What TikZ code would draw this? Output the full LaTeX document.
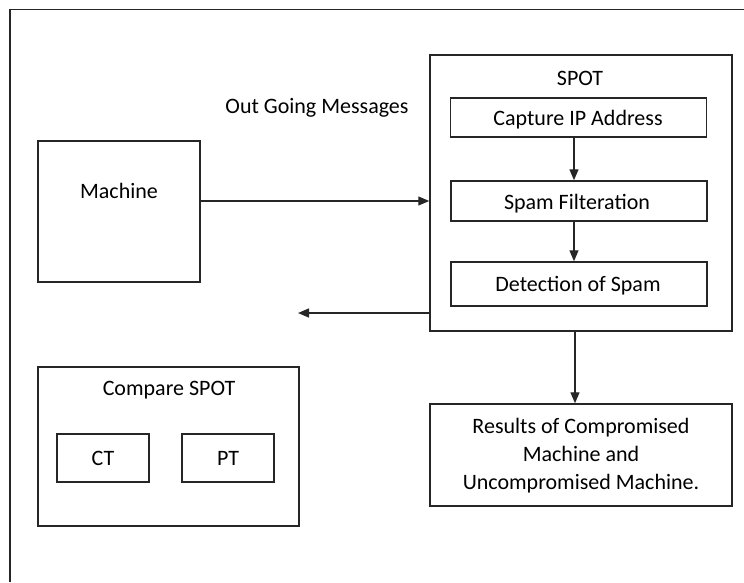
\documentclass[tikz,border=0pt]{standalone}
\usepackage{fontspec}
\setmainfont{Carlito}
\usetikzlibrary{arrows.meta}
\begin{document}
\begin{tikzpicture}[x=1pt,y=-1pt,
  box/.style={draw=black!85, line width=1.5pt, rectangle, inner sep=0pt, fill=white},
  lbl/.style={inner sep=0pt, font=\fontsize{22}{28}\selectfont, text=black},
  arr/.style={draw=black!85, line width=1.4pt, -{Triangle[length=11pt,width=9pt]}}]
  \useasboundingbox (0,0) rectangle (744,582);
  % partial outer frame
  \coordinate (frameBL) at (10,582);
  \coordinate (frameTL) at (10,9.5);
  \coordinate (frameTR) at (744,9.5);
  \draw[black!85, line width=1.5pt] (frameBL) -- (frameTL) -- (frameTR);

  % source machine
  \node[box, minimum width=162pt, minimum height=141pt] (machine) at (119,211.5) {};
  \node[lbl] (machinetxt) at (119,191) {Machine};

  % SPOT block and its stages
  \node[box, minimum width=302pt, minimum height=276pt] (spot) at (581,193) {};
  \node[lbl] (spottxt) at (580,78) {SPOT};
  \node[box, minimum width=256pt, minimum height=39pt] (capture) at (578.5,117.5) {};
  \node[lbl] (capturetxt) at (578,120) {Capture IP Address};
  \node[box, minimum width=256pt, minimum height=40pt] (spam) at (579,201) {};
  \node[lbl] (spamtxt) at (577,204) {Spam Filteration};
  \node[box, minimum width=256pt, minimum height=44pt] (detect) at (579,284) {};
  \node[lbl] (detecttxt) at (578,286) {Detection of Spam};

  % results
  \node[box, minimum width=302pt, minimum height=102pt] (results) at (581,455) {};
  \node[lbl, align=center] (resultstxt) at (581,456) {Results of Compromised\\Machine and\\Uncompromised Machine.};

  % comparison block
  \node[box, minimum width=261pt, minimum height=159pt] (compare) at (168.5,446.5) {};
  \node[lbl] (comparetxt) at (169,390) {Compare SPOT};
  \node[box, minimum width=92pt, minimum height=48pt] (ct) at (103,458) {};
  \node[lbl] (cttxt) at (103,458) {CT};
  \node[box, minimum width=92pt, minimum height=48pt] (pt) at (228,458) {};
  \node[lbl] (pttxt) at (228,458) {PT};

  % message label
  \node[lbl] (outmsg) at (317,108) {Out Going Messages};

  % connectors
  \coordinate (msgy) at (0,201);
  \coordinate (stagex) at (574,0);
  \coordinate (resx) at (575,0);
  \coordinate (backend) at (298,313);
  \draw[arr] (machine.east |- msgy) -- (spot.west |- msgy);
  \draw[arr] (capture.south -| stagex) -- (spam.north -| stagex);
  \draw[arr] (spam.south -| stagex) -- (detect.north -| stagex);
  \draw[arr] (spot.west |- backend) -- (backend);
  \draw[arr] (spot.south -| resx) -- (results.north -| resx);
\end{tikzpicture}
\end{document}
